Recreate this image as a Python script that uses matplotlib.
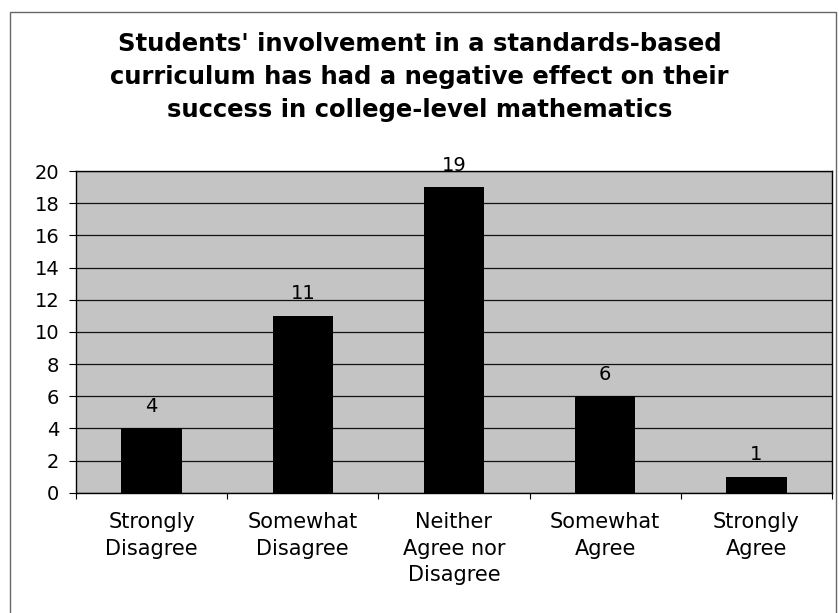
import matplotlib.pyplot as plt
from matplotlib.patches import Rectangle

categories = ['Strongly\nDisagree', 'Somewhat\nDisagree', 'Neither\nAgree nor\nDisagree',
              'Somewhat\nAgree', 'Strongly\nAgree']
counts = [4, 11, 19, 6, 1]

fig = plt.figure(figsize=(8.39, 6.13), dpi=100)
ax = fig.add_axes([0.0906, 0.196, 0.901, 0.525])

x = range(len(categories))
bars = ax.bar(x, counts, width=0.4, color='black', zorder=3)
for b, v in zip(bars, counts):
    ax.text(b.get_x() + b.get_width() / 2, v + 1.37, str(v), ha='center', va='center',
            fontsize=14, zorder=4)

ax.set_facecolor('#c4c4c4')
ax.set_xlim(-0.5, 4.5)
ax.set_ylim(0, 20)
ax.set_yticks(range(0, 21, 2))
ax.yaxis.grid(True, color='#111111', linewidth=0.9, zorder=1)
ax.set_xticks(x)
ax.set_xticklabels(categories, fontsize=15, linespacing=1.4)
ax.set_xticks([i - 0.5 for i in range(len(categories) + 1)], minor=True)
ax.tick_params(axis='y', labelsize=14, length=5, pad=7)
ax.tick_params(axis='x', which='major', length=0, pad=14)
ax.tick_params(axis='x', which='minor', length=4, width=0.8)
for s in ax.spines.values():
    s.set_color('black')
    s.set_linewidth(1.0)

fig.text(0.50, 0.874, "Students' involvement in a standards-based\n"
         "curriculum has had a negative effect on their\n"
         "success in college-level mathematics",
         ha='center', va='center', fontsize=17.5, fontweight='bold', linespacing=1.46)

fig.patches.append(Rectangle((0.012, -0.01), 0.984, 0.99, transform=fig.transFigure,
                             fill=False, edgecolor='#666666', linewidth=1.0))

fig.savefig('out.png', dpi=100)
